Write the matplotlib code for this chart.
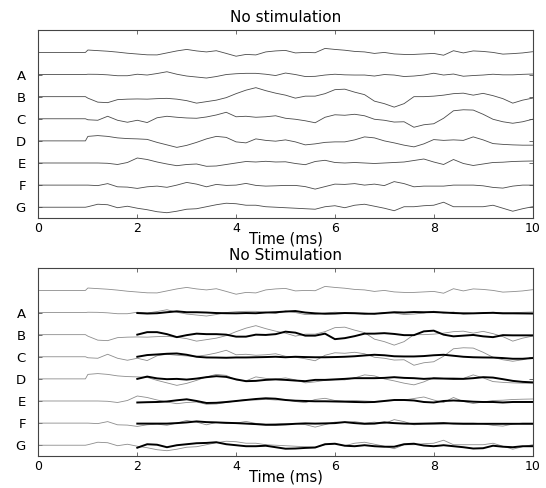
import numpy as np
import matplotlib
matplotlib.use("Agg")
from matplotlib import pyplot as plt

matplotlib.rcParams.update({'font.size': 10, 'font.family': 'DejaVu Sans'})

# sampling: flat pre-stimulus part, then every 0.2 ms from 1 ms on
t_pre = [0.0, 0.95]
t_rec = np.round(np.arange(1.0, 10.001, 0.2), 1)      # 46 samples
t_fit = np.round(np.arange(2.0, 10.001, 0.2), 1)      # 41 samples

labels = ["", "A", "B", "C", "D", "E", "F", "G"]

# recorded traces (amplitude, arbitrary units), 1.0 .. 10.0 ms
rec_0 = [2.4, 1.8, 1.2, 0.3, -0.8,  -1.6, -2.4, -2.5, -0.5, 1.5,
         3.0, 1.5, 0.5, 1.7, -1.0,  -3.8, -2.0, -2.5, 0.5, 1.5,
         2.0, -0.5, 0.0, -0.3, 4.0,  3.0, 2.2, 1.0, 0.5, -1.0,
         0.0, -1.5, -2.0, -2.0, -1.5,  -1.0, -2.8, 1.7, -0.5, 1.5,
         1.0, 0.0, -1.7, -1.2, -0.5,  0.7]
rec_A = [0.3, 0.2, -0.3, -1.2, -1.2,  0.3, -0.5, 1.0, 2.8, 0.3,
         -1.5, -2.5, -3.5, -2.0, 0.0,  0.8, 1.2, 1.2, 0.3, -1.0,
         1.5, 0.0, -2.0, -1.8, -0.5,  0.3, -0.3, -0.5, -0.5, -1.5,
         0.0, -0.5, -2.0, -1.5, -0.5,  1.3, -0.5, 0.5, -1.7, -1.0,
         -0.5, 0.3, -0.3, -0.3, 0.2,  0.5]
rec_B = [-1.5, -5.5, -6.0, -3.0, -2.5,  -2.3, -2.5, -2.0, -1.7, -2.5,
         -4.0, -6.5, -5.0, -3.5, -1.0,  3.0, 6.5, 9.0, 6.0, 3.5,
         1.5, -1.5, 0.5, 0.5, 3.0,  7.0, 7.5, 4.5, 2.0, -4.5,
         -7.0, -10.5, -7.0, 0.0, 0.0,  0.5, 1.5, 3.0, 3.5, 1.5,
         3.3, 1.0, -2.0, -6.5, -3.5,  -1.5]
rec_C = [-1.0, -1.5, 2.5, -1.5, -3.5,  -1.5, -3.8, 1.0, 2.5, 1.5,
         0.8, 0.5, 1.8, 3.8, 6.5,  2.0, 2.5, 1.5, 2.0, 3.0,
         0.5, -0.5, -2.0, -4.0, 1.5,  4.0, 3.5, 4.5, 3.0, -0.5,
         -1.5, -3.3, -3.0, -8.5, -6.0,  -5.0, 0.5, 8.0, 9.0, 8.7,
         4.5, -0.5, -3.0, -4.5, -3.0,  -0.5]
rec_D = [4.5, 5.3, 4.5, 3.0, 2.3,  2.0, 1.5, -1.5, -4.0, -6.5,
         -4.5, -1.5, 2.0, 4.5, 3.5,  -1.0, -2.0, 2.0, 0.5, -0.3,
         1.0, -1.0, -4.0, -3.0, -1.5,  -1.0, -1.0, 1.0, 4.0, 3.0,
         0.0, -2.0, -4.3, -6.0, -3.0,  1.3, 0.5, 1.0, 0.5, 4.0,
         1.0, -2.7, -3.5, -4.0, -4.3,  -4.3]
rec_E = [0.0, 0.0, -0.3, -1.5, 0.5,  5.0, 3.5, 1.0, -1.0, -2.7,
         -1.5, -1.0, -3.3, -3.0, -1.5,  0.0, 1.5, 1.0, 1.7, 1.0,
         1.2, -0.5, -1.7, 1.5, 2.7,  0.5, 0.0, 0.5, 0.0, -0.5,
         0.0, 0.5, 1.0, 2.5, 4.0,  1.0, -1.5, 3.5, -0.5, -2.5,
         -1.0, 0.5, 0.8, 1.5, 1.8,  2.0]
rec_F = [0.0, -0.5, 1.5, -1.7, -2.0,  -3.3, -1.7, -1.0, -2.2, 0.0,
         2.7, 1.0, -1.7, 0.7, -0.3,  0.0, 1.7, -0.3, -1.0, -0.7,
         -0.3, -0.3, -1.5, -4.0, -1.5,  1.0, 0.7, 1.5, 0.0, 1.0,
         -0.5, 3.5, 1.5, -1.7, -1.0,  -1.0, -1.0, 0.0, 0.0, 0.0,
         -0.7, -2.3, -3.0, -1.0, 0.0,  0.0]
rec_G = [0.5, 3.0, 2.5, -0.5, 1.0,  -1.0, -2.5, -4.5, -5.5, -4.0,
         -2.0, -1.5, 0.5, 2.5, 4.0,  3.5, 2.0, 2.0, 0.5, 0.0,
         -0.5, -1.0, -1.5, -2.0, 0.5,  1.5, -0.5, 2.0, 3.0, 1.0,
         -1.0, -3.5, 0.5, 0.5, 1.5,  2.0, 5.0, 0.5, 0.5, 0.5,
         0.5, 2.0, -1.0, -4.0, -1.5,  0.5]

# model traces (thick lines, lower panel), 2.0 .. 10.0 ms
fit_A = [-0.5, -1.0, -0.7, 0.3, 1.2,  0.3, 0.3, 0.0, -0.5, -0.7,
         -0.8, -0.5, -0.7, 0.0, 0.3,  1.0, 1.5, 0.0, -0.8, -1.2,
         -1.0, -0.5, -0.7, -1.2, -1.2,  -0.5, 0.3, 0.0, 0.5, 0.3,
         0.5, 0.0, -0.5, -0.8, -0.8,  -0.5, -0.3, -0.8, -0.8, -0.9,  -1.0]
fit_B = [0.0, 2.5, 2.5, 0.5, -2.5,  -0.5, 1.0, 0.5, 0.5, 0.0,
         -2.0, -2.0, 0.0, -0.3, 0.5,  3.0, 2.0, -1.0, -1.0, 1.0,
         -4.5, -3.5, -1.5, 1.0, 1.0,  1.5, 0.7, -0.5, -0.5, 3.3,
         4.0, 0.0, -1.7, -1.0, -0.3,  -1.7, -2.5, -0.5, -0.7, -0.7,  -0.7]
fit_C = [0.0, 1.7, 2.3, 3.0, 3.3,  2.0, 0.0, -0.7, -0.8, -1.0,
         -0.7, -0.7, -0.5, -0.3, 0.0,  -0.5, 0.0, -0.3, -0.5, -0.5,
         -0.3, 0.0, 0.5, 1.3, 2.0,  1.5, 0.5, 0.3, 0.3, 0.7,
         1.5, 2.0, 1.0, 0.0, -0.5,  -0.7, -0.8, -1.3, -2.0, -2.0,  -1.3]
fit_D = [0.0, 2.3, 0.5, -0.3, 0.0,  -0.7, 0.3, 1.7, 2.7, 2.0,
         -0.5, -2.3, -2.0, -1.0, -0.5,  -1.0, -1.7, -2.3, -1.0, -1.0,
         -0.5, 0.0, 0.7, 0.7, 0.7,  1.0, 1.7, 1.0, 0.7, 0.0,
         0.5, 0.3, 0.0, 0.0, 0.7,  1.7, 1.3, -0.3, -2.0, -3.0,  -3.5]
fit_E = [-1.5, -1.2, -1.0, -0.5, 0.7,  1.7, 0.0, -2.0, -1.8, -1.0,
         0.0, 1.0, 2.0, 2.7, 2.3,  1.0, 0.3, 0.0, -0.3, -0.3,
         -0.5, -0.7, -1.0, -1.2, -1.0,  0.0, 1.0, 1.0, 0.5, -1.0,
         -1.5, 0.0, 0.5, 0.0, -0.7,  -1.0, -1.0, -1.5, -1.0, -1.0,  -1.0]
fit_F = [-0.5, -0.5, -0.5, -0.5, 0.0,  0.7, 1.7, 1.0, 0.7, 0.3,
         0.0, -0.5, -1.0, -1.7, -1.7,  -1.3, -0.7, -0.3, -0.5, -0.3,
         0.0, 1.0, 0.0, -0.7, -0.5,  0.7, 0.0, -0.5, -0.7, -0.5,
         -0.3, 0.0, -0.5, -0.7, -0.7,  -0.7, -0.7, -0.7, -0.7, -0.7,  -0.7]
fit_G = [-2.5, 1.0, 0.5, -2.0, 0.0,  1.0, 2.0, 2.3, 3.0, 1.0,
         0.0, -1.0, -1.0, -0.5, -2.0,  -3.5, -3.3, -2.7, -2.3, 1.0,
         1.5, -0.5, -1.0, 0.0, -1.0,  -1.5, -1.5, 1.0, 1.5, -0.3,
         -1.0, 0.0, -1.0, -2.0, -3.3,  -3.0, -0.5, -1.5, -2.0, -1.0,  -1.0]

recorded = [rec_0, rec_A, rec_B, rec_C, rec_D, rec_E, rec_F, rec_G]
fitted = [None, fit_A, fit_B, fit_C, fit_D, fit_E, fit_F, fit_G]

GAIN = 1.0 / 22.14   # amplitude -> trace spacing


def setup(ax, title):
    ax.set_xlim(0, 10)
    ax.set_ylim(0.5, 9)
    ax.set_xticks(range(0, 11, 2))
    ax.set_yticks(range(1, 8))
    ax.set_yticklabels(labels[:0:-1])
    ax.tick_params(direction='in', top=True, right=True, length=3,
                   width=0.6, color='#555555')
    ax.tick_params(axis='x', pad=2.5, labelsize=9)
    ax.tick_params(axis='y', pad=9, labelsize=9.5)
    for s in ax.spines.values():
        s.set_linewidth(0.8)
        s.set_color('#444444')
    ax.set_title(title, fontsize=11, pad=6)
    ax.set_xlabel("Time (ms)", fontsize=10.5, labelpad=-2)


fig = plt.figure(figsize=(5.46, 4.88), dpi=100)
ax_top = fig.add_axes([0.0705, 0.5527, 0.9048, 0.3852])
ax_bot = fig.add_axes([0.0705, 0.0650, 0.9048, 0.3852])

for i, rec in enumerate(recorded):
    base = 8 - i
    t = np.concatenate([t_pre, t_rec])
    y = base + GAIN * np.concatenate([[0.0, 0.0], rec])
    ax_top.plot(t, y, color='#4a4a4a', linewidth=0.6)
    ax_bot.plot(t, y, color='#8c8c8c', linewidth=0.6)
    if fitted[i] is not None:
        ax_bot.plot(t_fit, base + GAIN * np.array(fitted[i]),
                    color='black', linewidth=1.4)

setup(ax_top, "No stimulation")
setup(ax_bot, "No Stimulation")

fig.savefig("out.png", dpi=100)
